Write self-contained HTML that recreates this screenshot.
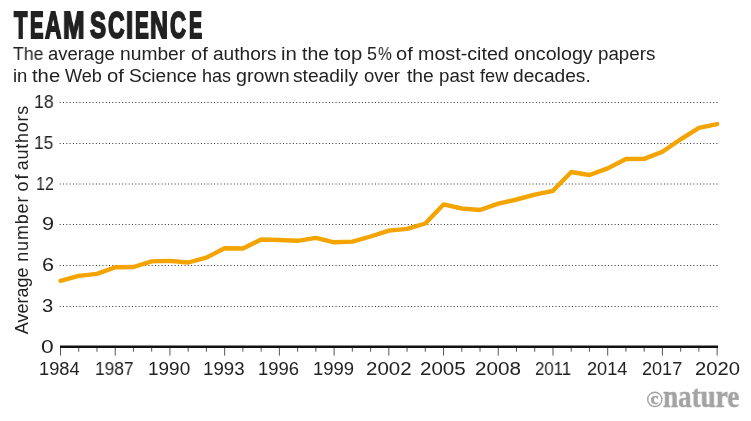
<!DOCTYPE html>
<html><head><meta charset="utf-8">
<style>
html,body{margin:0;padding:0;background:#fff;}
body{width:751px;height:421px;overflow:hidden;position:relative;-webkit-font-smoothing:antialiased;font-family:"Liberation Sans",sans-serif;color:#222;}
.tl{position:absolute;top:6px;will-change:transform;font-weight:bold;font-size:36.5px;line-height:40px;white-space:nowrap;transform-origin:0 0;-webkit-text-stroke:2px #222;}
.lab{position:absolute;will-change:transform;font-size:18px;line-height:22px;white-space:nowrap;transform-origin:0 0;}
.w{position:absolute;will-change:transform;font-size:18px;line-height:22px;white-space:nowrap;transform-origin:0 0;}
svg{position:absolute;left:0;top:0;will-change:transform;}
svg text{font-family:"Liberation Sans",sans-serif;font-size:18px;fill:#222;}
#logo{position:absolute;will-change:transform;left:662.9px;top:379px;color:#a3a3a3;font-family:"Liberation Serif",serif;font-weight:bold;font-size:31px;line-height:36px;white-space:nowrap;transform-origin:0 0;transform:scaleX(0.874);-webkit-text-stroke:0.5px #a3a3a3;}
</style></head><body>
<span class="tl" style="left:13.91px;transform:scaleX(0.6005)">T</span><span class="tl" style="left:29.56px;transform:scaleX(0.5561)">E</span><span class="tl" style="left:44.88px;transform:scaleX(0.6186)">A</span><span class="tl" style="left:62.94px;transform:scaleX(0.706)">M</span><span class="tl" style="left:90.44px;transform:scaleX(0.6544)">S</span><span class="tl" style="left:108.03px;transform:scaleX(0.628)">C</span><span class="tl" style="left:125.94px;transform:scaleX(0.7036)">I</span><span class="tl" style="left:134.75px;transform:scaleX(0.5651)">E</span><span class="tl" style="left:150.37px;transform:scaleX(0.6828)">N</span><span class="tl" style="left:169.95px;transform:scaleX(0.6047)">C</span><span class="tl" style="left:188.69px;transform:scaleX(0.5382)">E</span>
<span class="w" style="left:12.92px;top:43px;transform:scaleX(0.9805)">The</span>
<span class="w" style="left:48.27px;top:43px;transform:scaleX(1.0244)">average</span>
<span class="w" style="left:120.01px;top:43px;transform:scaleX(1.0688)">number</span>
<span class="w" style="left:190.71px;top:43px;transform:scaleX(1.1128)">of</span>
<span class="w" style="left:212.84px;top:43px;transform:scaleX(1.0601)">authors</span>
<span class="w" style="left:281.26px;top:43px;transform:scaleX(1.1298)">in</span>
<span class="w" style="left:301.53px;top:43px;transform:scaleX(1.0787)">the</span>
<span class="w" style="left:334.42px;top:43px;transform:scaleX(1.1269)">top</span>
<span class="w" style="left:395.71px;top:43px;transform:scaleX(1.1128)">of</span>
<span class="w" style="left:417.88px;top:43px;transform:scaleX(1.094)">most-cited</span>
<span class="w" style="left:513.53px;top:43px;transform:scaleX(1.0915)">oncology</span>
<span class="w" style="left:598.28px;top:43px;transform:scaleX(1.041)">papers</span>
<span class="w" style="left:12.78px;top:65px;transform:scaleX(1.027)">in</span>
<span class="w" style="left:31.72px;top:65px;transform:scaleX(1.1247)">the</span>
<span class="w" style="left:64.7px;top:65px;transform:scaleX(1.0063)">Web</span>
<span class="w" style="left:107.1px;top:65px;transform:scaleX(1.1269)">of</span>
<span class="w" style="left:128.84px;top:65px;transform:scaleX(1.0617)">Science</span>
<span class="w" style="left:201.67px;top:65px;transform:scaleX(0.9976)">has</span>
<span class="w" style="left:235.54px;top:65px;transform:scaleX(1.0939)">grown</span>
<span class="w" style="left:293.07px;top:65px;transform:scaleX(1.0645)">steadily</span>
<span class="w" style="left:364.18px;top:65px;transform:scaleX(1.0289)">over</span>
<span class="w" style="left:407.03px;top:65px;transform:scaleX(1.0703)">the</span>
<span class="w" style="left:438.68px;top:65px;transform:scaleX(1.0393)">past</span>
<span class="w" style="left:479.77px;top:65px;transform:scaleX(1.0107)">few</span>
<span class="w" style="left:513.46px;top:65px;transform:scaleX(1.064)">decades.</span>
<span class="w" style="left:367.4px;top:43px">5</span><span class="w" style="left:377.6px;top:43px;transform-origin:0 0;transform:scaleX(0.86)">%</span>
<svg width="751" height="421" viewBox="0 0 751 421">
<line x1="59.75" y1="102.5" x2="718" y2="102.5" stroke="#333" stroke-width="1" stroke-dasharray="1 2.2835"/>
<line x1="59.75" y1="143.5" x2="718" y2="143.5" stroke="#333" stroke-width="1" stroke-dasharray="1 2.2835"/>
<line x1="59.75" y1="184" x2="718" y2="184" stroke="#333" stroke-width="1" stroke-dasharray="1 2.2835"/>
<line x1="59.75" y1="224.5" x2="718" y2="224.5" stroke="#333" stroke-width="1" stroke-dasharray="1 2.2835"/>
<line x1="59.75" y1="265.5" x2="718" y2="265.5" stroke="#333" stroke-width="1" stroke-dasharray="1 2.2835"/>
<line x1="59.75" y1="306.5" x2="718" y2="306.5" stroke="#333" stroke-width="1" stroke-dasharray="1 2.2835"/>
<line x1="60.50" y1="347" x2="60.50" y2="355.6" stroke="#555" stroke-width="1"/>
<line x1="78.74" y1="347" x2="78.74" y2="351.7" stroke="#555" stroke-width="1"/>
<line x1="96.98" y1="347" x2="96.98" y2="351.7" stroke="#555" stroke-width="1"/>
<line x1="115.22" y1="347" x2="115.22" y2="355.6" stroke="#555" stroke-width="1"/>
<line x1="133.46" y1="347" x2="133.46" y2="351.7" stroke="#555" stroke-width="1"/>
<line x1="151.70" y1="347" x2="151.70" y2="351.7" stroke="#555" stroke-width="1"/>
<line x1="169.94" y1="347" x2="169.94" y2="355.6" stroke="#555" stroke-width="1"/>
<line x1="188.18" y1="347" x2="188.18" y2="351.7" stroke="#555" stroke-width="1"/>
<line x1="206.42" y1="347" x2="206.42" y2="351.7" stroke="#555" stroke-width="1"/>
<line x1="224.66" y1="347" x2="224.66" y2="355.6" stroke="#555" stroke-width="1"/>
<line x1="242.90" y1="347" x2="242.90" y2="351.7" stroke="#555" stroke-width="1"/>
<line x1="261.14" y1="347" x2="261.14" y2="351.7" stroke="#555" stroke-width="1"/>
<line x1="279.38" y1="347" x2="279.38" y2="355.6" stroke="#555" stroke-width="1"/>
<line x1="297.62" y1="347" x2="297.62" y2="351.7" stroke="#555" stroke-width="1"/>
<line x1="315.86" y1="347" x2="315.86" y2="351.7" stroke="#555" stroke-width="1"/>
<line x1="334.10" y1="347" x2="334.10" y2="355.6" stroke="#555" stroke-width="1"/>
<line x1="352.34" y1="347" x2="352.34" y2="351.7" stroke="#555" stroke-width="1"/>
<line x1="370.58" y1="347" x2="370.58" y2="351.7" stroke="#555" stroke-width="1"/>
<line x1="388.82" y1="347" x2="388.82" y2="355.6" stroke="#555" stroke-width="1"/>
<line x1="407.06" y1="347" x2="407.06" y2="351.7" stroke="#555" stroke-width="1"/>
<line x1="425.30" y1="347" x2="425.30" y2="351.7" stroke="#555" stroke-width="1"/>
<line x1="443.54" y1="347" x2="443.54" y2="355.6" stroke="#555" stroke-width="1"/>
<line x1="461.78" y1="347" x2="461.78" y2="351.7" stroke="#555" stroke-width="1"/>
<line x1="480.02" y1="347" x2="480.02" y2="351.7" stroke="#555" stroke-width="1"/>
<line x1="498.26" y1="347" x2="498.26" y2="355.6" stroke="#555" stroke-width="1"/>
<line x1="516.50" y1="347" x2="516.50" y2="351.7" stroke="#555" stroke-width="1"/>
<line x1="534.74" y1="347" x2="534.74" y2="351.7" stroke="#555" stroke-width="1"/>
<line x1="552.98" y1="347" x2="552.98" y2="355.6" stroke="#555" stroke-width="1"/>
<line x1="571.22" y1="347" x2="571.22" y2="351.7" stroke="#555" stroke-width="1"/>
<line x1="589.46" y1="347" x2="589.46" y2="351.7" stroke="#555" stroke-width="1"/>
<line x1="607.70" y1="347" x2="607.70" y2="355.6" stroke="#555" stroke-width="1"/>
<line x1="625.94" y1="347" x2="625.94" y2="351.7" stroke="#555" stroke-width="1"/>
<line x1="644.18" y1="347" x2="644.18" y2="351.7" stroke="#555" stroke-width="1"/>
<line x1="662.42" y1="347" x2="662.42" y2="355.6" stroke="#555" stroke-width="1"/>
<line x1="680.66" y1="347" x2="680.66" y2="351.7" stroke="#555" stroke-width="1"/>
<line x1="698.90" y1="347" x2="698.90" y2="351.7" stroke="#555" stroke-width="1"/>
<line x1="717.14" y1="347" x2="717.14" y2="355.6" stroke="#555" stroke-width="1"/>
<line x1="60" y1="346.8" x2="718" y2="346.8" stroke="#111" stroke-width="2.6"/>
<polyline points="60.50,280.80 78.74,275.90 96.98,273.90 115.22,267.30 133.46,267.00 151.70,261.40 169.94,260.90 188.18,262.50 206.42,257.60 224.66,248.20 242.90,248.50 261.14,239.50 279.38,240.00 297.62,240.80 315.86,237.90 334.10,242.30 352.34,241.60 370.58,236.50 388.82,230.60 407.06,228.90 425.30,223.50 443.54,204.40 461.78,208.50 480.02,210.00 498.26,203.70 516.50,199.50 534.74,194.70 552.98,190.80 571.22,172.00 589.46,175.00 607.70,168.40 625.94,159.00 644.18,158.90 662.42,151.80 680.66,139.30 698.90,127.90 717.14,124.10" fill="none" stroke="#F3A400" stroke-width="4.4" stroke-linecap="round" stroke-linejoin="round"/>
<text x="28" y="334.2" transform="rotate(-90 28 334.2)" text-anchor="start" letter-spacing="0.000">Average</text>
<text x="28" y="261.8" transform="rotate(-90 28 261.8)" text-anchor="start" letter-spacing="0.840">number</text>
<text x="28" y="191.4" transform="rotate(-90 28 191.4)" text-anchor="start" letter-spacing="2.000">of</text>
<text x="28" y="170.2" transform="rotate(-90 28 170.2)" text-anchor="start" letter-spacing="0.730">authors</text>
</svg>
<svg width="751" height="421" style="position:absolute;left:0;top:0">
<circle cx="654.8" cy="399.4" r="7.1" fill="none" stroke="#a3a3a3" stroke-width="1.4"/>
<text x="654.6" y="404.1" text-anchor="middle" style="font-family:'Liberation Serif',serif;font-weight:bold;font-size:17px;fill:#a3a3a3;stroke:#a3a3a3;stroke-width:0.6">c</text>
</svg>
<div id="logo">nature</div>
<span class="lab" style="left:39.23px;top:358px;transform:scaleX(1.0144)">1984</span>
<span class="lab" style="left:95.19px;top:358px;transform:scaleX(0.9638)">1987</span>
<span class="lab" style="left:148.07px;top:358px;transform:scaleX(1.0541)">1990</span>
<span class="lab" style="left:203.1px;top:358px;transform:scaleX(1.0365)">1993</span>
<span class="lab" style="left:258.11px;top:358px;transform:scaleX(1.0261)">1996</span>
<span class="lab" style="left:313.11px;top:358px;transform:scaleX(1.0273)">1999</span>
<span class="lab" style="left:365.98px;top:358px;transform:scaleX(1.1381)">2002</span>
<span class="lab" style="left:420.47px;top:358px;transform:scaleX(1.1411)">2005</span>
<span class="lab" style="left:475.37px;top:358px;transform:scaleX(1.147)">2008</span>
<span class="lab" style="left:534.86px;top:358px;transform:scaleX(0.9324)">2011</span>
<span class="lab" style="left:586.89px;top:358px;transform:scaleX(1.0102)">2014</span>
<span class="lab" style="left:642.3px;top:358px;transform:scaleX(1.0047)">2017</span>
<span class="lab" style="left:694.69px;top:358px;transform:scaleX(1.1224)">2020</span>
<span class="lab" style="left:34.07px;top:91.1px;transform:scaleX(0.9822)">18</span>
<span class="lab" style="left:34.39px;top:132.1px;transform:scaleX(0.9641)">15</span>
<span class="lab" style="left:35.79px;top:172.6px;transform:scaleX(0.895)">12</span>
<span class="lab" style="left:41.89px;top:213.1px;transform:scaleX(1.2062)">9</span>
<span class="lab" style="left:41.9px;top:254.1px;transform:scaleX(1.2001)">6</span>
<span class="lab" style="left:42.4px;top:295.1px;transform:scaleX(1.1224)">3</span>
<span class="lab" style="left:41.1px;top:335.6px;transform:scaleX(1.2688)">0</span>
</body></html>
